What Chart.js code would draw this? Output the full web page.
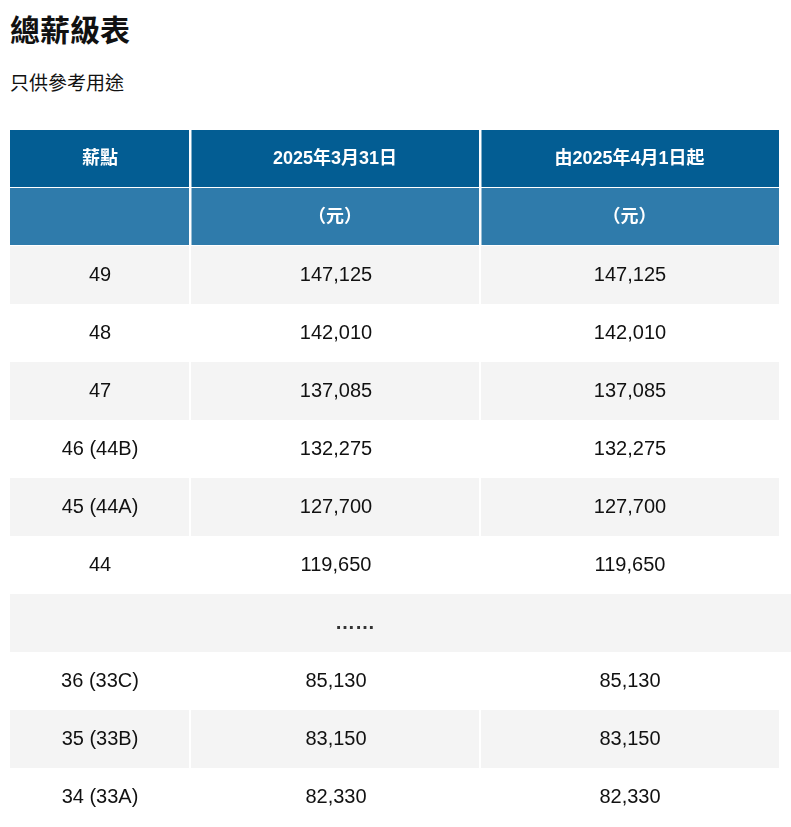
<!DOCTYPE html>
<html>
<head>
<meta charset="utf-8">
<title>總薪級表</title>
<script src="https://cdn.jsdelivr.net/npm/chart.js"></script>
<style>
  body {
    margin: 0;
    padding: 0;
    overflow: hidden;
    background: #fff;
    font-family: "Liberation Sans", Arial, "Noto Sans CJK TC", sans-serif;
    color: #111;
  }
  h1 {
    position: absolute;
    left: 10px;
    top: 6px;
    margin: 0;
    font-size: 30px;
    font-family: "Noto Sans CJK TC", sans-serif;
  }
  .note {
    position: absolute;
    left: 10px;
    top: 68px;
    font-size: 19px;
    font-family: "Noto Sans CJK TC", sans-serif;
  }
  .table-wrap {
    position: absolute;
    left: 0;
    top: 130px;
    width: 791px;
    height: 696px;
  }
</style>
</head>
<body>
<h1>總薪級表</h1>
<div class="note">只供參考用途</div>
<div class="table-wrap"><canvas id="payTable"></canvas></div>

<script>
// table data
const headers = ['薪點', '2025年3月31日', '由2025年4月1日起'];
const units = ['', '（元）', '（元）'];
const points = ['49', '48', '47', '46 (44B)', '45 (44A)', '44', '……', '36 (33C)', '35 (33B)', '34 (33A)'];
const salaryMar2025 = [147125, 142010, 137085, 132275, 127700, 119650, null, 85130, 83150, 82330];
const salaryApr2025 = [147125, 142010, 137085, 132275, 127700, 119650, null, 85130, 83150, 82330];

const rowLabels = ['head', 'unit'].concat(points);
const fmt = v => v == null ? '' : v.toLocaleString('en-US');

const tablePlugin = {
  id: 'tablePlugin',
  beforeDraw(chart) {
    const ctx = chart.ctx;
    const y = chart.scales.y;
    const left = 10, right = 779;
    const cols = [10, 190, 480, 779];
    const half = (y.getPixelForValue(1) - y.getPixelForValue(0)) / 2;
    ctx.save();
    ctx.textAlign = 'center';
    ctx.textBaseline = 'middle';
    rowLabels.forEach((lab, i) => {
      const cy = y.getPixelForValue(i);
      const top = cy - half, h = half * 2;
      if (i < 2) {
        ctx.fillStyle = i === 0 ? '#035d93' : '#2f7bab';
        ctx.fillRect(left, top, right - left, h);
        ctx.fillStyle = '#fff';
        ctx.fillRect(cols[1] - 1, top, 2.5, h);
        ctx.fillRect(cols[2] - 1, top, 2.5, h);
        ctx.fillRect(left, top + h - 1, right - left, 2.5);
        ctx.font = 'bold 18px "Liberation Sans", "Noto Sans CJK TC", sans-serif';
        const texts = i === 0 ? headers : units;
        texts.forEach((t, c) => ctx.fillText(t, (cols[c] + cols[c + 1]) / 2, cy));
        return;
      }
      const r = i - 2;
      const grey = r % 2 === 0;
      if (lab === '……') {
        ctx.fillStyle = '#f4f4f4';
        ctx.fillRect(left, top, 791 - left, h);
        ctx.fillStyle = '#333';
        ctx.font = 'bold 20px "Liberation Sans", sans-serif';
        ctx.fillText('……', 355, cy);
        return;
      }
      if (grey) {
        ctx.fillStyle = '#f4f4f4';
        ctx.fillRect(left, top, right - left, h);
        ctx.fillStyle = '#fff';
        ctx.fillRect(cols[1] - 1, top, 2, h);
        ctx.fillRect(cols[2] - 1, top, 2, h);
      }
      ctx.fillStyle = '#111';
      ctx.font = '20px "Liberation Sans", Arial, sans-serif';
      ctx.fillText(lab, 100, cy);
      ctx.fillText(fmt(salaryMar2025[r]), 336, cy);
      ctx.fillText(fmt(salaryApr2025[r]), 630, cy);
    });
    ctx.restore();
  }
};

new Chart(document.getElementById('payTable'), {
  type: 'bar',
  data: {
    labels: rowLabels,
    datasets: [{ data: rowLabels.map(() => 0), backgroundColor: 'transparent' }]
  },
  options: {
    indexAxis: 'y',
    responsive: true,
    maintainAspectRatio: false,
    animation: false,
    layout: { padding: 0 },
    plugins: { legend: { display: false }, tooltip: { enabled: false } },
    scales: {
      x: { display: false, min: 0, max: 1 },
      y: { display: false }
    }
  },
  plugins: [tablePlugin]
});
</script>
</body>
</html>
